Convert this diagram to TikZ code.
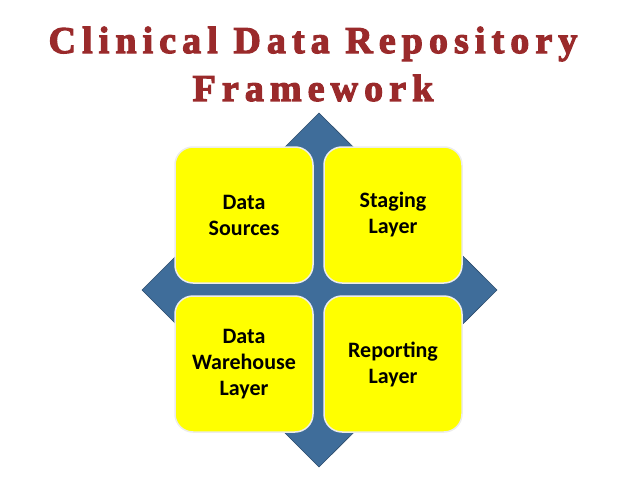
\documentclass[tikz,border=0pt]{standalone}
\usepackage{fontspec}
\setmainfont{Carlito}
\newfontfamily\titlefont[LetterSpace=16,FakeBold=3]{Liberation Serif}
\definecolor{titlered}{HTML}{9A2A2B}
\definecolor{diamondblue}{HTML}{3F6D9A}
\definecolor{boxyellow}{HTML}{FFFF00}
\tikzset{
  quad/.style={draw=white!85!gray, line width=1.5pt, fill=boxyellow, rounded corners=18pt, minimum width=138pt, minimum height=136pt, inner sep=0pt, align=center, font=\bfseries\fontsize{22}{26}\selectfont},
  ttl/.style={text=titlered, font=\titlefont\bfseries\fontsize{38}{40}\selectfont}
}
\begin{document}
\begin{tikzpicture}[x=1pt,y=-1pt]
\useasboundingbox (0,0) rectangle (638,479);
\node[ttl] (t1) at (313,44) {Clinical Data Repository};
\node[ttl] (t2) at (313,88) {Framework};
\filldraw[fill=diamondblue, draw=diamondblue!70!black, line width=0.6pt] (319,113) -- (497,290) -- (319,467) -- (142,290) -- cycle;
\node[quad] (ds) at (244,215) {Data\\Sources};
\node[quad] (sl) at (393,215) {Staging\\Layer};
\node[quad] (dw) at (244,364) {Data\\Warehouse\\Layer};
\node[quad] (rl) at (393,364) {Reporting\\Layer};
\end{tikzpicture}
\end{document}
